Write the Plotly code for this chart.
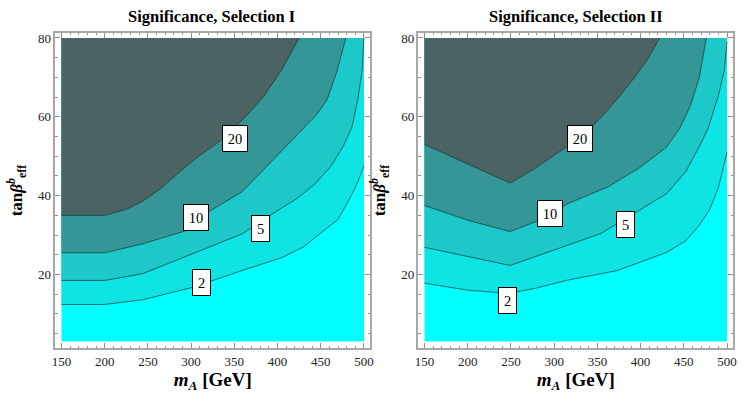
import plotly.graph_objects as go

# ---- plot bounds (data region) ----
X_MIN, X_MAX = 150, 500
Y_MIN, Y_MAX = 3, 80

LEVELS = [2, 5, 10, 20]
LABELS = ["2", "5", "10", "20"]

# ---- Selection I contour curves (mA, tanbeta) ----
s1_c2_x = [150, 200, 244, 301, 359, 405, 430, 447, 470, 482, 492, 500]
s1_c2_y = [12.4, 12.4, 13.6, 16.7, 21, 24.3, 27, 30, 34, 38.6, 43, 47.5]
s1_c5_x = [150, 200, 244, 301, 359, 397, 422, 443, 462, 476, 486, 493, 498, 500]
s1_c5_y = [18.5, 18.5, 20.2, 25.3, 30.3, 35.8, 39.2, 42.9, 47.5, 52.5, 57.3, 64.5, 72, 80]
s1_c10_x = [150, 200, 244, 294, 321, 359, 401, 428, 445, 457, 468, 479]
s1_c10_y = [25.5, 25.5, 27.8, 31.1, 36.0, 41.0, 50.5, 56.5, 60.5, 64.2, 71, 80]
s1_c20_x = [150, 200, 225, 244, 263, 301, 339, 365, 385, 405, 425]
s1_c20_y = [35, 35, 36.5, 38.6, 41.5, 48.7, 54.8, 60.5, 65.5, 72, 80]

# ---- Selection II contour curves ----
s2_c2_x = [150, 201, 247, 278, 316, 373, 430, 452, 468, 480, 490, 500]
s2_c2_y = [17.8, 16, 15.2, 16.5, 18.6, 21, 25.6, 28.5, 32.5, 36.5, 42, 51]
s2_c5_x = [150, 200, 249, 301, 354, 392, 430, 452, 468, 478, 490, 497, 500]
s2_c5_y = [26.9, 24.6, 22.3, 26.3, 30.4, 35.4, 40.5, 46, 52.5, 57, 65.3, 72, 79]
s2_c10_x = [150, 201, 249, 282, 316, 362, 399, 430, 445, 458, 468, 476]
s2_c10_y = [37.5, 33.7, 30.9, 33.7, 38.0, 42.2, 47.1, 52.3, 57, 63, 70, 80]
s2_c20_x = [150, 201, 249, 275, 305, 330, 354, 373, 392, 408, 422]
s2_c20_y = [53, 48, 43.2, 46.5, 51, 54.5, 59.8, 64.5, 69.7, 74.5, 80]

# ---- contour label positions ----
s1_lab_x = [312, 380, 306, 351]
s1_lab_y = [18, 31.6, 34.4, 54.5]
s2_lab_x = [246, 382, 295, 330]
s2_lab_y = [13.5, 32.7, 35.5, 54.5]

titles = ["Significance, Selection I", "Significance, Selection II"]

BASE_COLOR = "#00ffff"
FILL_COLORS = ["#0ee4e4", "#1cc8c8", "#349696", "#4b6363"]
LINE_COLOR = "rgba(20,50,50,0.85)"

SERIF = "Liberation Serif"

fig = go.Figure()

panels = [
    ([(s1_c2_x, s1_c2_y), (s1_c5_x, s1_c5_y), (s1_c10_x, s1_c10_y), (s1_c20_x, s1_c20_y)],
     s1_lab_x, s1_lab_y, "x", "y"),
    ([(s2_c2_x, s2_c2_y), (s2_c5_x, s2_c5_y), (s2_c10_x, s2_c10_y), (s2_c20_x, s2_c20_y)],
     s2_lab_x, s2_lab_y, "x2", "y2"),
]

annotations = []
for curves, lx, ly, xa, ya in panels:
    # base rectangle
    fig.add_trace(go.Scatter(
        x=[X_MIN, X_MAX, X_MAX, X_MIN], y=[Y_MIN, Y_MIN, Y_MAX, Y_MAX],
        fill="toself", fillcolor=BASE_COLOR, mode="lines", line=dict(width=0),
        xaxis=xa, yaxis=ya, hoverinfo="skip", showlegend=False))
    for (cx, cy), col in zip(curves, FILL_COLORS):
        px = list(cx)
        py = list(cy)
        if py[-1] < Y_MAX:
            px.append(X_MAX); py.append(Y_MAX)
        px.append(X_MIN); py.append(Y_MAX)
        fig.add_trace(go.Scatter(
            x=px, y=py, fill="toself", fillcolor=col, mode="lines", line=dict(width=0),
            xaxis=xa, yaxis=ya, hoverinfo="skip", showlegend=False))
    for cx, cy in curves:
        fig.add_trace(go.Scatter(
            x=cx, y=cy, mode="lines", line=dict(color=LINE_COLOR, width=0.8),
            xaxis=xa, yaxis=ya, hoverinfo="skip", showlegend=False))
    for t, x, y in zip(LABELS, lx, ly):
        annotations.append(dict(
            text=t, x=x, y=y, xref=xa, yref=ya, showarrow=False,
            width=11 if len(t) == 1 else 18, height=19,
            bgcolor="white", bordercolor="black", borderwidth=1, borderpad=3,
            font=dict(family=SERIF, size=14.5, color="black")))

# panel titles
for t, cx in zip(titles, [210, 578]):
    annotations.append(dict(
        text="<b>" + t + "</b>", x=cx / 743, y=1 - 15 / 394, xref="paper", yref="paper",
        xanchor="center", yanchor="middle", showarrow=False,
        font=dict(family=SERIF, size=16.5, color="black")))

axis_common = dict(
    showgrid=False, zeroline=False, showline=True, linecolor="#a8a8a8", linewidth=1.5,
    mirror="ticks", ticks="inside", tickcolor="#909090", ticklen=5, tickwidth=1,
    tickfont=dict(family=SERIF, size=13, color="#222"),
)
xaxis_common = dict(axis_common, range=[143, 507], tickvals=[150, 200, 250, 300, 350, 400, 450, 500],
                    minor=dict(ticks="inside", ticklen=2.5, tickcolor="#909090", dtick=10, tick0=150),
                    title=dict(text="<b><i>m</i><sub><i>A</i></sub> [GeV]</b>",
                               font=dict(family=SERIF, size=19, color="black"), standoff=5))
yaxis_common = dict(axis_common, range=[1.3, 81.3], tickvals=[20, 40, 60, 80],
                    minor=dict(ticks="inside", ticklen=2.5, tickcolor="#909090", dtick=5, tick0=0),
                    title=dict(text="<b>tan<i>β</i><sup><i>b</i></sup><sub>eff</sub></b>",
                               font=dict(family=SERIF, size=17, color="black"), standoff=11))

fig.update_layout(
    width=743, height=394, margin=dict(l=0, r=0, t=0, b=0),
    paper_bgcolor="white", plot_bgcolor="white",
    xaxis=dict(xaxis_common, domain=[52 / 743, 370 / 743], anchor="y"),
    yaxis=dict(yaxis_common, domain=[1 - 348 / 394, 1 - 31 / 394], anchor="x"),
    xaxis2=dict(xaxis_common, domain=[419 / 743, 737 / 743], anchor="y2"),
    yaxis2=dict(yaxis_common, domain=[1 - 348 / 394, 1 - 31 / 394], anchor="x2"),
    annotations=annotations,
)

fig.write_html("out.html")
